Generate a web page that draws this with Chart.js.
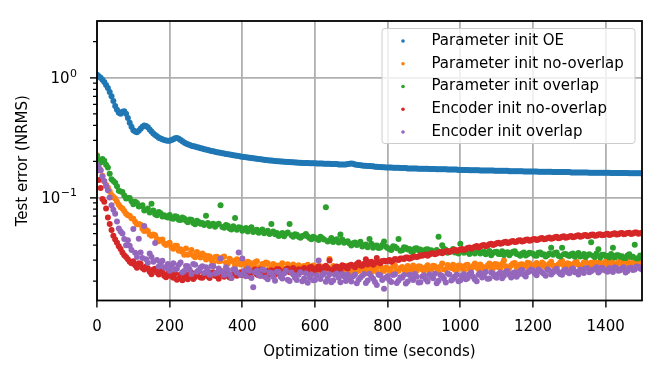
<!DOCTYPE html>
<html><head><meta charset="utf-8">
<script src="https://cdn.jsdelivr.net/npm/chart.js@4.4.0/dist/chart.umd.min.js"></script>
<style>html,body{margin:0;padding:0;background:#fff;}canvas{display:block;}</style>
</head><body>
<canvas id="c" width="657" height="366"></canvas>
<script>
const times = [
0,10,20,30,40,50,60,70,80,90,
100,110,120,130,140,150,160,170,180,190,
200,210,220,230,240,250,260,270,280,290,
300,310,320,330,340,350,360,370,380,390,
400,410,420,430,440,450,460,470,480,490,
500,510,520,530,540,550,560,570,580,590,
600,610,620,630,640,650,660,670,680,690,
700,710,720,730,740,750,760,770,780,790,
800,810,820,830,840,850,860,870,880,890,
900,910,920,930,940,950,960,970,980,990,
1000,1010,1020,1030,1040,1050,1060,1070,1080,1090,
1100,1110,1120,1130,1140,1150,1160,1170,1180,1190,
1200,1210,1220,1230,1240,1250,1260,1270,1280,1290,
1300,1310,1320,1330,1340,1350,1360,1370,1380,1390,
1400,1410,1420,1430,1440,1450,1460,1470,1480,1490,
1500];
const times2 = [
5,15,25,35,45,55,65,75,85,95,
105,115,125,135,145,155,165,175,185,195,
205,215,225,235,245,255,265,275,285,295,
305,315,325,335,345,355,365,375,385,395,
405,415,425,435,445,455,465,475,485,495,
505,515,525,535,545,555,565,575,585,595,
605,615,625,635,645,655,665,675,685,695,
705,715,725,735,745,755,765,775,785,795,
805,815,825,835,845,855,865,875,885,895,
905,915,925,935,945,955,965,975,985,995,
1005,1015,1025,1035,1045,1055,1065,1075,1085,1095,
1105,1115,1125,1135,1145,1155,1165,1175,1185,1195,
1205,1215,1225,1235,1245,1255,1265,1275,1285,1295,
1305,1315,1325,1335,1345,1355,1365,1375,1385,1395,
1405,1415,1425,1435,1445,1455,1465,1475,1485,1495];

const paramOE = [
1.06,1.0,0.92,0.82,0.70,0.58,0.51,0.52,0.50,0.42,
0.365,0.35,0.375,0.40,0.385,0.355,0.332,0.316,0.306,0.299,
0.298,0.307,0.314,0.302,0.288,0.278,0.271,0.266,0.261,0.256,
0.251,0.247,0.243,0.239,0.236,0.233,0.230,0.227,0.224,0.222,
0.219,0.217,0.215,0.213,0.211,0.209,0.207,0.205,0.204,0.202,
0.201,0.200,0.199,0.198,0.197,0.196,0.195,0.194,0.194,0.193,
0.193,0.192,0.192,0.191,0.191,0.190,0.190,0.189,0.189,0.190,
0.192,0.189,0.187,0.185,0.184,0.183,0.182,0.181,0.180,0.179,
0.178,0.178,0.177,0.177,0.176,0.176,0.175,0.175,0.175,0.174,
0.174,0.174,0.173,0.173,0.172,0.172,0.172,0.171,0.171,0.171,
0.170,0.170,0.170,0.169,0.169,0.169,0.168,0.168,0.168,0.168,
0.167,0.167,0.167,0.167,0.166,0.166,0.166,0.166,0.165,0.165,
0.165,0.165,0.164,0.164,0.164,0.164,0.163,0.163,0.163,0.163,
0.163,0.162,0.162,0.162,0.162,0.162,0.161,0.161,0.161,0.161,
0.161,0.161,0.160,0.160,0.160,0.160,0.160,0.159,0.159,0.159,
0.159];
const paramOE2 = [
1.03,0.96,0.87,0.76,0.64,0.54,0.50,0.525,0.46,0.39,
0.355,0.36,0.39,0.395,0.37,0.343,0.324,0.311,0.302,0.298,
0.302,0.312,0.309,0.295,0.283,0.274,0.268,0.263,0.258,0.253,
0.249,0.245,0.241,0.237,0.234,0.231,0.228,0.225,0.223,0.220,
0.218,0.216,0.214,0.212,0.210,0.208,0.206,0.204,0.203,0.201,
0.200,0.199,0.198,0.197,0.196,0.195,0.194,0.194,0.193,0.193,
0.192,0.192,0.191,0.191,0.190,0.190,0.189,0.189,0.189,0.191,
0.191,0.188,0.186,0.184,0.183,0.182,0.181,0.180,0.179,0.178,
0.178,0.177,0.177,0.176,0.176,0.175,0.175,0.175,0.174,0.174,
0.174,0.173,0.173,0.172,0.172,0.172,0.171,0.171,0.171,0.170,
0.170,0.170,0.169,0.169,0.169,0.168,0.168,0.168,0.168,0.167,
0.167,0.167,0.167,0.166,0.166,0.166,0.166,0.165,0.165,0.165,
0.165,0.164,0.164,0.164,0.164,0.163,0.163,0.163,0.163,0.163,
0.162,0.162,0.162,0.162,0.162,0.161,0.161,0.161,0.161,0.161,
0.161,0.160,0.160,0.160,0.160,0.160,0.159,0.159,0.159,0.159];

const paramNoOverlap = [
0.225,0.170,0.136,0.121,0.105,0.098,0.087,0.081,0.073,0.0705,
0.0663,0.0598,0.0593,0.0524,0.0525,0.0480,0.0484,0.0432,0.0446,0.0402,
0.0418,0.0373,0.0395,0.0369,0.0333,0.0333,0.0364,0.0317,0.0331,0.0341,
0.0304,0.0322,0.0287,0.0320,0.0295,0.0322,0.0280,0.0298,0.0272,0.0297,
0.0300,0.0267,0.0285,0.0269,0.0294,0.0258,0.0275,0.0282,0.0258,0.0265,
0.0259,0.0282,0.0249,0.0269,0.0276,0.0252,0.0243,0.0268,0.0275,0.0253,
0.0267,0.0243,0.0258,0.0246,0.0307,0.0268,0.0237,0.0257,0.0246,0.0269,
0.0238,0.0258,0.0245,0.0265,0.0233,0.0253,0.0263,0.0240,0.0268,0.0243,
0.0256,0.0237,0.0270,0.0245,0.0263,0.0241,0.0257,0.0270,0.0245,0.0264,
0.0243,0.0272,0.0252,0.0267,0.0239,0.0281,0.0251,0.0265,0.0274,0.0251,
0.0269,0.0246,0.0275,0.0257,0.0281,0.0252,0.0265,0.0252,0.0281,0.0257,
0.0277,0.0258,0.0298,0.0251,0.0272,0.0284,0.0254,0.0277,0.0264,0.0283,
0.0259,0.0284,0.0265,0.0279,0.0255,0.0290,0.0266,0.0276,0.0296,0.0260,
0.0279,0.0261,0.0291,0.0266,0.0286,0.0259,0.0285,0.0291,0.0273,0.0267,
0.0292,0.0270,0.0285,0.0263,0.0297,0.0277,0.0292,0.0268,0.0291,0.0286,
0.0280];
const paramNoOverlap2 = [
0.195,0.152,0.128,0.113,0.101,0.092,0.083,0.077,0.071,0.067,
0.0628,0.0602,0.0548,0.0538,0.0492,0.0490,0.0450,0.0442,0.0412,0.0410,
0.0385,0.0395,0.0360,0.0352,0.0375,0.0338,0.0328,0.0350,0.0316,0.0330,
0.0325,0.0299,0.0318,0.0293,0.0316,0.0285,0.0308,0.0292,0.0305,0.0276,
0.0283,0.0291,0.0265,0.0288,0.0262,0.0278,0.0286,0.0260,0.0279,0.0270,
0.0272,0.0255,0.0277,0.0260,0.0248,0.0272,0.0264,0.0250,0.0257,0.0270,
0.0251,0.0266,0.0240,0.0262,0.0250,0.0244,0.0263,0.0249,0.0259,0.0238,
0.0255,0.0242,0.0262,0.0247,0.0258,0.0239,0.0252,0.0266,0.0246,0.0259,
0.0249,0.0264,0.0243,0.0258,0.0250,0.0268,0.0247,0.0259,0.0266,0.0250,
0.0262,0.0248,0.0269,0.0256,0.0264,0.0250,0.0273,0.0258,0.0249,0.0270,
0.0258,0.0272,0.0254,0.0268,0.0260,0.0276,0.0255,0.0271,0.0262,0.0278,
0.0262,0.0280,0.0266,0.0259,0.0281,0.0263,0.0276,0.0268,0.0285,0.0262,
0.0275,0.0268,0.0286,0.0262,0.0280,0.0271,0.0258,0.0287,0.0270,0.0283,
0.0268,0.0285,0.0274,0.0262,0.0290,0.0277,0.0268,0.0282,0.0288,0.0270,
0.0283,0.0290,0.0273,0.0287,0.0279,0.0295,0.0272,0.0286,0.0280,0.0293];

const paramOverlap = [
0.222,0.196,0.203,0.178,0.142,0.133,0.114,0.111,0.098,0.099,
0.088,0.090,0.085,0.078,0.081,0.0886,0.0725,0.0755,0.0695,0.0690,
0.0715,0.0665,0.0690,0.0648,0.0668,0.0620,0.0652,0.0598,0.0625,0.0612,
0.0705,0.0578,0.0605,0.0592,0.0860,0.0560,0.0582,0.0541,0.0675,0.0565,
0.0528,0.0556,0.0549,0.0515,0.0538,0.0522,0.0502,0.0528,0.0600,0.0494,
0.0478,0.0505,0.0498,0.0600,0.0469,0.0488,0.0462,0.0481,0.0472,0.0448,
0.0462,0.0441,0.0456,0.0830,0.0438,0.0425,0.0449,0.0490,0.0418,0.0432,
0.0398,0.0421,0.0412,0.0389,0.0405,0.0450,0.0381,0.0397,0.0383,0.0430,
0.0378,0.0365,0.0388,0.0450,0.0362,0.0381,0.0372,0.0356,0.0377,0.0368,
0.0352,0.0370,0.0363,0.0348,0.0470,0.0400,0.0366,0.0351,0.0372,0.0358,
0.0410,0.0346,0.0362,0.0355,0.0341,0.0358,0.0349,0.0336,0.0357,0.0344,
0.0352,0.0338,0.0331,0.0349,0.0342,0.0355,0.0334,0.0341,0.0328,0.0346,
0.0339,0.0327,0.0348,0.0335,0.0330,0.0380,0.0344,0.0326,0.0380,0.0337,
0.0325,0.0340,0.0331,0.0322,0.0338,0.0329,0.0423,0.0319,0.0370,0.0333,
0.0324,0.0316,0.0380,0.0330,0.0320,0.0313,0.0328,0.0318,0.0403,0.0311,
0.0322];
const paramOverlap2 = [
0.205,0.210,0.188,0.158,0.137,0.124,0.112,0.104,0.099,0.093,
0.092,0.084,0.086,0.079,0.075,0.078,0.071,0.0738,0.0712,0.0682,
0.0672,0.0698,0.0652,0.0680,0.0638,0.0655,0.0612,0.0640,0.0604,0.0590,
0.0612,0.0595,0.0570,0.0603,0.0568,0.0590,0.0552,0.0575,0.0538,0.0560,
0.0545,0.0520,0.0565,0.0530,0.0508,0.0540,0.0515,0.0495,0.0520,0.0505,
0.0492,0.0475,0.0510,0.0485,0.0493,0.0470,0.0478,0.0495,0.0458,0.0470,
0.0452,0.0470,0.0446,0.0430,0.0459,0.0440,0.0420,0.0445,0.0428,0.0412,
0.0415,0.0402,0.0426,0.0400,0.0385,0.0410,0.0395,0.0378,0.0402,0.0388,
0.0370,0.0392,0.0376,0.0360,0.0384,0.0368,0.0352,0.0375,0.0362,0.0350,
0.0368,0.0355,0.0342,0.0365,0.0352,0.0374,0.0345,0.0360,0.0348,0.0340,
0.0360,0.0352,0.0338,0.0350,0.0365,0.0340,0.0353,0.0345,0.0330,0.0350,
0.0337,0.0355,0.0345,0.0330,0.0352,0.0338,0.0326,0.0348,0.0336,0.0342,
0.0328,0.0345,0.0334,0.0322,0.0340,0.0332,0.0347,0.0321,0.0335,0.0329,
0.0336,0.0320,0.0344,0.0327,0.0318,0.0335,0.0326,0.0341,0.0315,0.0332,
0.0325,0.0338,0.0316,0.0330,0.0323,0.0312,0.0335,0.0320,0.0310,0.0328];

const encNoOverlap = [
0.168,0.120,0.092,0.068,0.0535,0.0445,0.0392,0.0348,0.0318,0.0290,
0.0294,0.0259,0.0280,0.0250,0.0256,0.0229,0.0254,0.0228,0.0236,0.0216,
0.0237,0.0214,0.0206,0.0227,0.0220,0.0208,0.0235,0.0217,0.0242,0.0214,
0.0231,0.0213,0.0238,0.0220,0.0244,0.0218,0.0232,0.0214,0.0240,0.0231,
0.0225,0.0246,0.0221,0.0242,0.0228,0.0251,0.0221,0.0240,0.0247,0.0226,
0.0252,0.0230,0.0250,0.0238,0.0258,0.0230,0.0248,0.0258,0.0239,0.0263,
0.0243,0.0266,0.0249,0.0269,0.0298,0.0251,0.0265,0.0246,0.0268,0.0255,
0.0275,0.0261,0.0286,0.0269,0.0305,0.0286,0.0275,0.0312,0.0282,0.0297,
0.0297,0.0291,0.0306,0.0301,0.0310,0.0316,0.0308,0.0320,0.0318,0.0330,
0.0331,0.0327,0.0340,0.0336,0.0348,0.0342,0.0355,0.0351,0.0363,0.0358,
0.0367,0.0364,0.0379,0.0374,0.0387,0.0383,0.0398,0.0392,0.0407,0.0401,
0.0414,0.0410,0.0423,0.0417,0.0430,0.0424,0.0437,0.0430,0.0443,0.0436,
0.0447,0.0441,0.0455,0.0447,0.0460,0.0452,0.0466,0.0457,0.0471,0.0462,
0.0473,0.0466,0.0480,0.0471,0.0485,0.0475,0.0488,0.0479,0.0492,0.0483,
0.0494,0.0487,0.0499,0.0490,0.0503,0.0493,0.0506,0.0496,0.0509,0.0499,
0.0508];
const encNoOverlap2 = [
0.140,0.097,0.081,0.060,0.048,0.0418,0.0372,0.0330,0.0305,0.0282,
0.0272,0.0283,0.0258,0.0265,0.0240,0.0251,0.0236,0.0245,0.0222,0.0232,
0.0220,0.0232,0.0211,0.0204,0.0230,0.0222,0.0209,0.0228,0.0215,0.0232,
0.0219,0.0235,0.0222,0.0210,0.0230,0.0236,0.0215,0.0227,0.0222,0.0238,
0.0240,0.0226,0.0233,0.0250,0.0224,0.0236,0.0245,0.0229,0.0236,0.0252,
0.0243,0.0238,0.0255,0.0244,0.0236,0.0252,0.0240,0.0246,0.0260,0.0250,
0.0258,0.0250,0.0262,0.0256,0.0248,0.0262,0.0254,0.0272,0.0260,0.0270,
0.0268,0.0278,0.0270,0.0280,0.0276,0.0290,0.0284,0.0288,0.0295,0.0292,
0.0300,0.0298,0.0304,0.0309,0.0306,0.0315,0.0312,0.0322,0.0322,0.0327,
0.0334,0.0334,0.0343,0.0341,0.0351,0.0349,0.0358,0.0356,0.0366,0.0362,
0.0372,0.0370,0.0383,0.0380,0.0393,0.0390,0.0402,0.0398,0.0411,0.0406,
0.0418,0.0414,0.0427,0.0421,0.0434,0.0428,0.0440,0.0434,0.0446,0.0440,
0.0450,0.0445,0.0458,0.0451,0.0463,0.0456,0.0469,0.0461,0.0474,0.0466,
0.0476,0.0470,0.0483,0.0475,0.0487,0.0479,0.0491,0.0482,0.0494,0.0486,
0.0497,0.0490,0.0502,0.0494,0.0505,0.0497,0.0508,0.0500,0.0511,0.0503];

const encOverlap = [
0.188,0.168,0.137,0.115,0.086,0.073,0.055,0.050,0.040,0.0395,
0.0546,0.0318,0.0348,0.0578,0.0285,0.0318,0.0416,0.0265,0.0296,0.0258,
0.0245,0.0282,0.0254,0.0286,0.0243,0.0266,0.0230,0.0274,0.0247,0.0266,
0.0261,0.0226,0.0266,0.0235,0.0310,0.0225,0.0248,0.0213,0.0252,0.0347,
0.0310,0.0220,0.0244,0.0178,0.0245,0.0221,0.0247,0.0208,0.0234,0.0202,
0.0239,0.0211,0.0244,0.0201,0.0228,0.0205,0.0237,0.0211,0.0194,0.0228,
0.0205,0.0298,0.0225,0.0198,0.0229,0.0203,0.0232,0.0196,0.0219,0.0227,
0.0199,0.0228,0.0206,0.0222,0.0193,0.0231,0.0210,0.0186,0.0224,0.0173,
0.0220,0.0197,0.0229,0.0203,0.0214,0.0191,0.0226,0.0205,0.0218,0.0196,
0.0224,0.0199,0.0218,0.0231,0.0202,0.0221,0.0195,0.0228,0.0209,0.0226,
0.0204,0.0229,0.0212,0.0236,0.0207,0.0226,0.0215,0.0239,0.0211,0.0232,
0.0214,0.0236,0.0222,0.0243,0.0215,0.0238,0.0227,0.0248,0.0219,0.0241,
0.0246,0.0224,0.0243,0.0231,0.0252,0.0228,0.0247,0.0239,0.0226,0.0251,
0.0233,0.0255,0.0240,0.0251,0.0234,0.0257,0.0242,0.0250,0.0236,0.0259,
0.0245,0.0258,0.0239,0.0256,0.0247,0.0262,0.0243,0.0259,0.0250,0.0264,
0.0251];
const encOverlap2 = [
0.178,0.150,0.125,0.100,0.079,0.063,0.052,0.045,0.044,0.0365,
0.0345,0.0452,0.0312,0.0305,0.0340,0.0290,0.0300,0.0282,0.0262,0.0278,
0.0268,0.0250,0.0275,0.0236,0.0268,0.0252,0.0279,0.0240,0.0260,0.0234,
0.0244,0.0268,0.0232,0.0255,0.0240,0.0262,0.0228,0.0250,0.0236,0.0225,
0.0242,0.0255,0.0213,0.0238,0.0226,0.0250,0.0215,0.0236,0.0218,0.0240,
0.0218,0.0232,0.0206,0.0236,0.0214,0.0226,0.0200,0.0233,0.0215,0.0204,
0.0224,0.0209,0.0233,0.0212,0.0196,0.0226,0.0214,0.0230,0.0201,0.0212,
0.0220,0.0192,0.0215,0.0230,0.0203,0.0218,0.0197,0.0226,0.0205,0.0214,
0.0204,0.0225,0.0193,0.0216,0.0225,0.0199,0.0212,0.0230,0.0195,0.0219,
0.0208,0.0228,0.0212,0.0192,0.0225,0.0210,0.0232,0.0203,0.0219,0.0200,
0.0222,0.0208,0.0230,0.0218,0.0200,0.0234,0.0220,0.0210,0.0236,0.0219,
0.0230,0.0212,0.0240,0.0226,0.0234,0.0218,0.0245,0.0226,0.0238,0.0250,
0.0232,0.0250,0.0237,0.0222,0.0245,0.0236,0.0254,0.0230,0.0246,0.0238,
0.0250,0.0238,0.0228,0.0248,0.0256,0.0237,0.0250,0.0262,0.0244,0.0252,
0.0240,0.0253,0.0261,0.0244,0.0256,0.0236,0.0258,0.0248,0.0265,0.0255];

const seriesLabels = ['Parameter init OE','Parameter init no-overlap','Parameter init overlap','Encoder init no-overlap','Encoder init overlap'];
const seriesColors = ['#1f77b4','#ff7f0e','#2ca02c','#d62728','#9467bd'];
const xTicks = [0,200,400,600,800,1000,1200,1400];
const xTickLabels = ['0','200','400','600','800','1000','1200','1400'];
const yMajorTicks = [0.1,1];
const yMajorBase = ['10','10'];
const yMajorExp = ['\u22121','0'];
const yMinorTicks = [0.02,0.03,0.04,0.05,0.06,0.07,0.08,0.09,0.2,0.3,0.4,0.5,0.6,0.7,0.8,0.9,2];

const FONT = "'DejaVu Sans', sans-serif";
const FS = 15;
const DOT = 3;
const mainSeries = [paramOE,paramNoOverlap,paramOverlap,encNoOverlap,encOverlap];
const extraSeries = [paramOE2,paramNoOverlap2,paramOverlap2,encNoOverlap2,encOverlap2];
const datasets = mainSeries.map((ys,i)=>{
  let pts = times.map((t,j)=>({x:t,y:ys[j]}));
  pts = pts.concat(times2.map((t,j)=>({x:t,y:extraSeries[i][j]})));
  pts.sort((p,q)=>p.x-q.x);
  return {
    label: seriesLabels[i],
    data: pts,
    backgroundColor: seriesColors[i],
    borderColor: seriesColors[i],
    pointBackgroundColor: seriesColors[i],
    pointBorderColor: seriesColors[i],
    pointBorderWidth: 0,
    pointRadius: DOT,
    pointHoverRadius: DOT,
    order: mainSeries.length - i
  };
});

const isMajorY = v => yMajorTicks.some(m => Math.abs(m - v) < 1e-9);

const framePlugin = {
  id: 'frame',
  afterDatasetsDraw(chart) {
    const {ctx, chartArea: a, scales: {y}} = chart;
    ctx.save();
    ctx.strokeStyle = '#000';
    ctx.lineWidth = 1.2;
    ctx.beginPath();
    yMinorTicks.forEach(v => {
      const py = y.getPixelForValue(v);
      ctx.moveTo(a.left, py);
      ctx.lineTo(a.left - 4, py);
    });
    ctx.stroke();
    ctx.lineWidth = 1.8;
    ctx.strokeRect(a.left, a.top, a.right - a.left, a.bottom - a.top);
    ctx.fillStyle = '#000';
    ctx.textAlign = 'right';
    ctx.textBaseline = 'alphabetic';
    yMajorTicks.forEach((v, k) => {
      const py = y.getPixelForValue(v);
      ctx.font = '11px ' + FONT;
      const ew = ctx.measureText(yMajorExp[k]).width;
      ctx.fillText(yMajorExp[k], 77, py - 1);
      ctx.font = FS + 'px ' + FONT;
      ctx.fillText(yMajorBase[k], 77 - ew - 0.5, py + 5.5);
    });
    ctx.restore();
  }
};

const legendPlugin = {
  id: 'boxLegend',
  afterDraw(chart) {
    const ctx = chart.ctx, a = chart.chartArea;
    const w = 253, h = 115, r = 3;
    const x0 = a.right - 7 - w, y0 = a.top + 7.5;
    ctx.save();
    ctx.beginPath();
    ctx.moveTo(x0 + r, y0);
    ctx.lineTo(x0 + w - r, y0);
    ctx.arcTo(x0 + w, y0, x0 + w, y0 + r, r);
    ctx.lineTo(x0 + w, y0 + h - r);
    ctx.arcTo(x0 + w, y0 + h, x0 + w - r, y0 + h, r);
    ctx.lineTo(x0 + r, y0 + h);
    ctx.arcTo(x0, y0 + h, x0, y0 + h - r, r);
    ctx.lineTo(x0, y0 + r);
    ctx.arcTo(x0, y0, x0 + r, y0, r);
    ctx.closePath();
    ctx.fillStyle = 'rgba(255,255,255,0.8)';
    ctx.fill();
    ctx.strokeStyle = '#cccccc';
    ctx.lineWidth = 1;
    ctx.stroke();
    ctx.font = FS + 'px ' + FONT;
    ctx.textBaseline = 'middle';
    ctx.textAlign = 'left';
    chart.data.datasets.forEach((ds, i) => {
      const cy = y0 + 12.5 + i * 22.75;
      ctx.fillStyle = ds.backgroundColor;
      ctx.beginPath();
      ctx.arc(x0 + 21, cy, 1.8, 0, Math.PI * 2);
      ctx.fill();
      ctx.fillStyle = '#000';
      ctx.fillText(ds.label, x0 + 49.5, cy);
    });
    ctx.restore();
  }
};

new Chart(document.getElementById('c'), {
  type: 'scatter',
  data: { datasets },
  plugins: [framePlugin, legendPlugin],
  options: {
    responsive: false,
    animation: false,
    devicePixelRatio: 1,
    events: [],
    elements: { point: { radius: DOT, hoverRadius: DOT, borderWidth: 0, hitRadius: 0 } },
    layout: { padding: { left: 0, right: 15, top: 5, bottom: 0 } },
    plugins: { legend: { display: false }, tooltip: { enabled: false } },
    scales: {
      x: {
        type: 'linear', min: 0, max: 1500,
        afterBuildTicks: s => { s.ticks = xTicks.map(v => ({ value: v })); },
        afterFit: s => { s.height = 65.5; },
        border: { display: false },
        grid: { color: '#b0b0b0', lineWidth: 1.8, tickColor: '#000', tickLength: 7, tickWidth: 1.4 },
        ticks: {
          font: { family: FONT, size: FS }, color: '#000', padding: 10.5, maxRotation: 0, autoSkip: false,
          callback: v => { const k = xTicks.indexOf(v); return k >= 0 ? xTickLabels[k] : ''; }
        },
        title: { display: true, text: 'Optimization time (seconds)', font: { family: FONT, size: FS }, color: '#000', padding: { top: 0, bottom: 5 } }
      },
      y: {
        type: 'logarithmic', min: 0.0138, max: 2.976,
        afterBuildTicks: s => { s.ticks = yMinorTicks.concat(yMajorTicks).sort((p, q) => p - q).map(v => ({ value: v })); },
        afterFit: s => { s.width = 97; },
        border: { display: false },
        grid: {
          color: c => isMajorY(c.tick.value) ? '#b0b0b0' : 'rgba(0,0,0,0)',
          tickColor: c => isMajorY(c.tick.value) ? '#000' : 'rgba(0,0,0,0)',
          lineWidth: 1.8, tickLength: 7, tickWidth: 1.4
        },
        ticks: {
          font: { family: FONT, size: FS }, color: '#000', padding: 12, autoSkip: false,
          major: { enabled: false },
          callback: () => ''
        },
        title: { display: true, text: 'Test error (NRMS)', font: { family: FONT, size: FS }, color: '#000', padding: { top: 14, bottom: 0 } }
      }
    }
  }
});
</script>
</body></html>
